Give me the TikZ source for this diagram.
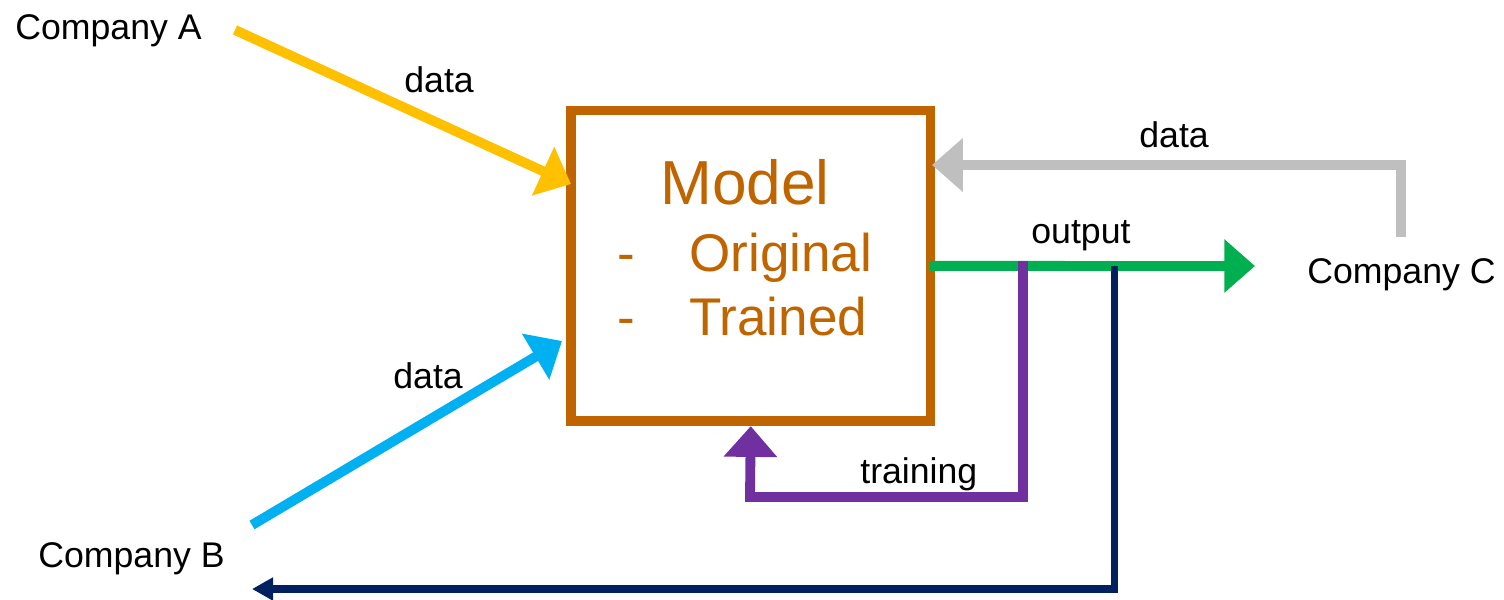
\documentclass[tikz,border=0pt]{standalone}
\usepackage{fontspec}
\setmainfont{Liberation Sans}
\usepackage{xcolor}
\usetikzlibrary{arrows.meta}

\definecolor{modelorange}{HTML}{C06400}
\definecolor{agold}{HTML}{FFC000}
\definecolor{bblue}{HTML}{00B0F0}
\definecolor{cgray}{HTML}{BFBFBF}
\definecolor{outgreen}{HTML}{00B050}
\definecolor{trainpurple}{HTML}{7030A0}
\definecolor{backnavy}{HTML}{002060}

\begin{document}
\begin{tikzpicture}[x=0.02cm,y=-0.02cm,
  lbl/.style={anchor=base west,inner sep=0pt,font=\fontsize{20.3}{24}\selectfont},
  item/.style={anchor=base west,inner sep=0pt,text=modelorange,font=\fontsize{30.2}{36}\selectfont},
  flow/.style={line width=5.6pt,-{Triangle[length=17.5pt,width=29.5pt]}}]

\useasboundingbox (0,0) rectangle (1504,599);

% Model box
\node[draw=modelorange,line width=5.5pt,minimum width=7.19cm,minimum height=6.22cm,
      inner sep=0pt] (M) at (750.75,265.85) {};
\node[anchor=base west,inner sep=0pt,text=modelorange,font=\fontsize{35.4}{42}\selectfont]
      (mtitle) at (660,204) {Model};
\node[item] (d1) at (617,271) {-};
\node[item] (orig) at (689,271) {Original};
\node[item] (d2) at (617,335) {-};
\node[item] (trnd) at (689,335) {Trained};

% Companies
\node[lbl] (A) at (15,39) {Company A};
\node[lbl] (B) at (38,567) {Company B};
\node[lbl] (C) at (1307,283) {Company C};

% Define points
\coordinate (a1) at (235,30);
\coordinate (a2) at (571,184);
\coordinate (b1) at (252,525);
\coordinate (b2) at (562,341);
\coordinate (c1) at (1401,237);
\coordinate (c2) at (932,165);
\coordinate (o2) at (1255,266);
\coordinate (t1) at (1023,261);
\coordinate (t2) at (750,497);
\coordinate (n1) at (1114,266);
\coordinate (n2) at (1114,589);
\coordinate (n3) at (252,589);

% Arrows
\draw[flow,agold] (a1) -- (a2);
\draw[flow,bblue] (b1) -- (b2);
\draw[flow,cgray] (c1) |- (c2);
\draw[flow,outgreen] ([xshift=-3pt]M.east) -- (o2);
\draw[flow,trainpurple] (t1) |- (t2) -- (M.south);
\draw[line width=4pt,backnavy,-{Triangle[length=12pt,width=12.5pt]}] (n1) -- (n2) -- (n3);

% Labels
\node[lbl] (dataA) at (404,92) {data};
\node[lbl] (dataB) at (393,388) {data};
\node[lbl] (dataC) at (1139,147) {data};
\node[lbl] (outlbl) at (1031,243) {output};
\node[lbl] (trainlbl) at (860,483) {training};

\end{tikzpicture}
\end{document}
